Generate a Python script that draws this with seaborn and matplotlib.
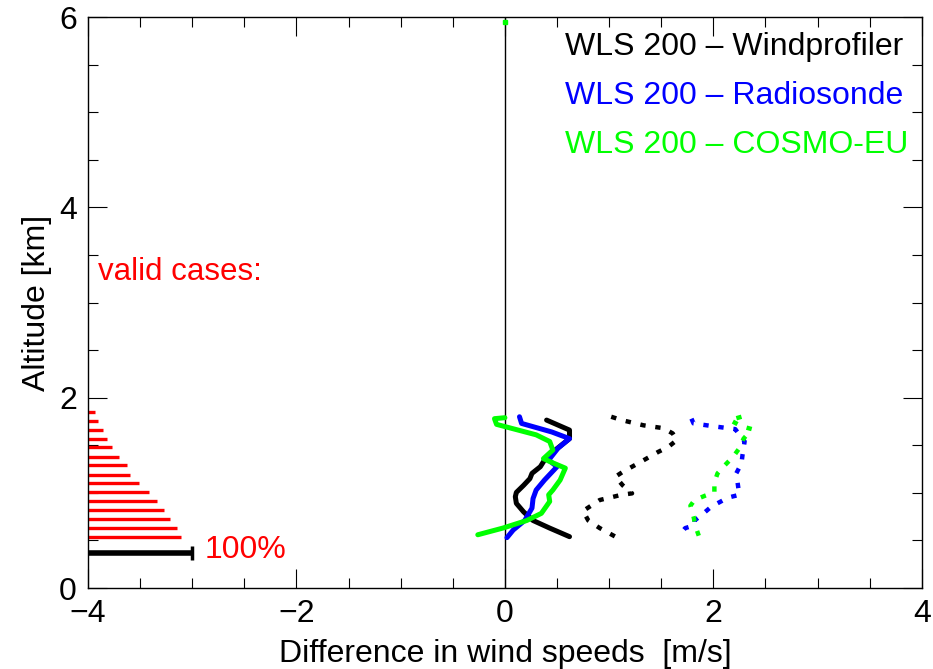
import numpy as np
import pandas as pd
import seaborn as sns
import matplotlib
matplotlib.use("Agg")
import matplotlib.pyplot as plt
from matplotlib.ticker import MultipleLocator

# ---- mean difference profiles (solid) -------------------------------------
wp_alt = [1.765, 1.66, 1.57, 1.43, 1.345, 1.275, 1.205, 1.15, 1.08, 1.005, 0.96, 0.89, 0.80, 0.71, 0.63, 0.54]
wp_diff = [0.40, 0.62, 0.62, 0.46, 0.38, 0.34, 0.26, 0.24, 0.18, 0.11, 0.10, 0.11, 0.18, 0.27, 0.43, 0.62]

rs_alt = [1.80, 1.73, 1.64, 1.57, 1.47, 1.345, 1.275, 1.135, 1.03, 0.94, 0.84, 0.71, 0.61, 0.53]
rs_diff = [0.14, 0.16, 0.45, 0.62, 0.51, 0.42, 0.50, 0.38, 0.30, 0.27, 0.26, 0.19, 0.08, 0.02]

ce_alt = [1.79, 1.78, 1.72, 1.61, 1.54, 1.45, 1.36, 1.32, 1.26, 1.135, 1.03, 0.98, 0.91, 0.785, 0.71, 0.63, 0.56]
ce_diff = [0.00, -0.10, -0.08, 0.30, 0.43, 0.46, 0.37, 0.45, 0.58, 0.53, 0.46, 0.42, 0.43, 0.35, 0.21, -0.02, -0.26]

# ---- standard deviation profiles (dotted) ---------------------------------
wp_sd_alt = [1.80, 1.765, 1.71, 1.68, 1.625, 1.555, 1.485, 1.43, 1.33, 1.22, 1.17, 1.08, 0.995, 0.98, 0.925, 0.81, 0.71, 0.63, 0.54]
wp_sd = [1.02, 1.12, 1.33, 1.52, 1.61, 1.65, 1.57, 1.47, 1.31, 1.13, 1.06, 1.13, 1.22, 1.12, 0.91, 0.75, 0.80, 0.91, 1.06]

rs_sd_alt = [1.78, 1.73, 1.70, 1.67, 1.54, 1.40, 1.31, 1.205, 1.05, 0.98, 0.95, 0.855, 0.77, 0.71, 0.66, 0.63, 0.54]
rs_sd = [1.79, 1.81, 2.00, 2.21, 2.30, 2.28, 2.27, 2.22, 2.24, 2.25, 2.14, 1.98, 1.89, 1.82, 1.82, 1.73, 1.66]

ce_sd_alt = [1.80, 1.765, 1.70, 1.67, 1.57, 1.47, 1.38, 1.29, 1.205, 1.11, 1.005, 0.97, 0.925, 0.865, 0.75, 0.645, 0.55]
ce_sd = [2.27, 2.16, 2.27, 2.37, 2.29, 2.25, 2.19, 2.11, 2.04, 2.01, 2.01, 1.92, 1.82, 1.78, 1.81, 1.83, 1.86]

# ---- number of valid cases per level (percent of maximum) -----------------
case_alt = [1.85, 1.76, 1.66, 1.57, 1.48, 1.38, 1.29, 1.19, 1.10, 1.01, 0.91, 0.82, 0.73, 0.63, 0.54]
case_pct = [6.4, 9.2, 14.0, 18.4, 23.5, 30.2, 37.8, 40.3, 48.6, 58.4, 66.4, 72.7, 79.0, 85.0, 89.5]
ref_alt = 0.37
ref_pct = 100

legend_labels = ["WLS 200 – Windprofiler", "WLS 200 – Radiosonde", "WLS 200 – COSMO-EU"]
colors = ["#000000", "#0000ff", "#00ff00"]

sns.set_theme(style="ticks")
plt.rcParams["font.family"] = ["Liberation Sans", "DejaVu Sans"]
plt.rcParams["font.size"] = 23
plt.rcParams["text.color"] = "black"
plt.rcParams["axes.labelcolor"] = "black"
plt.rcParams["xtick.color"] = "black"
plt.rcParams["ytick.color"] = "black"

FS = 23

fig = plt.figure(figsize=(9.33, 6.69), dpi=100)
ax = fig.add_axes([0.0943, 0.121, 0.8937, 0.8535])

xmin = -4.0
# zero line
ax.plot([0, 0], [0, 6], color="black", lw=1.0, zorder=1)
ax.plot([0], [5.95], marker="s", color="#00ff00", ms=3, zorder=2)

solid = [(wp_diff, wp_alt), (rs_diff, rs_alt), (ce_diff, ce_alt)]
dotted = [(wp_sd, wp_sd_alt), (rs_sd, rs_sd_alt), (ce_sd, ce_sd_alt)]
for (x, y), c in zip(solid, colors):
    sns.lineplot(x=x, y=y, sort=False, estimator=None, color=c, lw=3.6, ax=ax)
for (x, y), c in zip(dotted, colors):
    sns.lineplot(x=x, y=y, sort=False, estimator=None, color=c, lw=3.2,
                 linestyle=(0, (1.2, 2.2)), ax=ax)

# valid-case bars: one axis unit corresponds to 100 %
ax.hlines(case_alt, xmin, xmin + np.array(case_pct) / 100.0, color="red", lw=2.4)
ax.hlines([ref_alt], xmin, xmin + ref_pct / 100.0, color="black", lw=4.0)
ax.vlines([xmin + ref_pct / 100.0], ref_alt - 0.07, ref_alt + 0.07, color="black", lw=2.5)
ax.text(-2.88, 0.40, "100%", color="red", fontsize=FS, va="center", ha="left")
ax.text(-3.9, 3.32, "valid cases:", color="red", fontsize=22.5, va="center", ha="left")

for i, (lab, c) in enumerate(zip(legend_labels, colors)):
    ax.text(0.576, 5.685 - 0.515 * i, lab, color=c, fontsize=FS, va="center", ha="left")

ax.set_xlim(-4, 4)
ax.set_ylim(0, 6)
ax.xaxis.set_major_locator(MultipleLocator(2))
ax.xaxis.set_minor_locator(MultipleLocator(0.5))
ax.yaxis.set_major_locator(MultipleLocator(2))
ax.yaxis.set_minor_locator(MultipleLocator(0.5))
ax.tick_params(which="both", direction="in", top=True, right=True, width=0.8, color="black")
ax.tick_params(which="major", length=14, pad=8, labelsize=FS, labelcolor="black")
ax.tick_params(which="minor", length=7)
ax.set_xticks([-4, -2, 0, 2, 4])
ax.set_xticklabels(["−4", "−2", "0", "2", "4"])
for s in ax.spines.values():
    s.set_linewidth(1.0)
    s.set_color("black")

ax.set_xlabel("Difference in wind speeds  [m/s]", fontsize=FS, labelpad=7, color="black")
ax.set_ylabel("Altitude [km]", fontsize=FS, labelpad=5, color="black")

fig.savefig("out.png", dpi=100)
